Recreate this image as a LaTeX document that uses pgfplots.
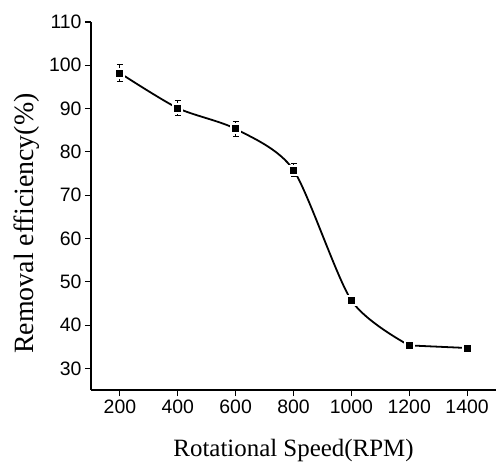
\documentclass[border=0pt]{standalone}
\usepackage{fontspec}
\setmainfont{Liberation Serif}
\newfontfamily\arialf{Liberation Sans}
\usepackage{pgfplots}
\pgfplotsset{compat=1.18}
\begin{document}
\begin{tikzpicture}
\begin{axis}[
  at={(0,0)}, anchor=origin,
  scale only axis,
  width=405bp, height=368bp,
  xmin=100, xmax=1500, ymin=25, ymax=110,
  axis x line*=bottom, axis y line*=left,
  axis line style={line width=1.1pt, -},
  xtick={200,400,...,1400}, ytick={30,40,...,110},
  minor tick num=0,
  tick align=outside,
  major tick length=6bp,
  tick style={line width=1.1pt, black},
  /pgf/number format/assume math mode=true,
  /pgf/number format/set thousands separator={},
  ticklabel style={font=\arialf\fontsize{19.5}{21}\selectfont},
  xlabel={Rotational Speed(RPM)},
  ylabel={Removal efficiency(\%)},
  xlabel style={font=\fontsize{25}{28}\selectfont, at={(axis description cs:0.5,-0.165)}, anchor=center},
  ylabel style={font=\fontsize{28}{30}\selectfont, at={(axis description cs:-0.158,0.452)}, anchor=center},
  clip=false,
]
\addplot[black, line width=1.8pt, smooth, tension=0.45, no marks] coordinates {
  (200,98.2) (400,90.1) (600,85.3) (800,75.8) (1000,45.7) (1200,35.3)
};
\addplot[black, line width=1.8pt, no marks] coordinates {
  (1200,35.3) (1400,34.7)
};
\addplot[only marks, mark=square*, mark size=4.5bp,
  mark options={fill=black, draw=white, line width=2bp},
  error bars/.cd, y dir=both, y explicit,
  error bar style={black, line width=1pt},
  error mark options={black, line width=1pt, mark size=3bp, rotate=90}]
  coordinates {
  (200,98.2) +- (0,1.9)
  (400,90.1) +- (0,1.7)
  (600,85.3) +- (0,1.7)
  (800,75.8) +- (0,1.5)
  (1000,45.7) +- (0,0.5)
  (1200,35.3) +- (0,0.5)
  (1400,34.7) +- (0,0.5)
};
\end{axis}
\pgfresetboundingbox
\path[use as bounding box] (-91bp,-73bp) rectangle (406bp,390bp);
\end{tikzpicture}
\end{document}
